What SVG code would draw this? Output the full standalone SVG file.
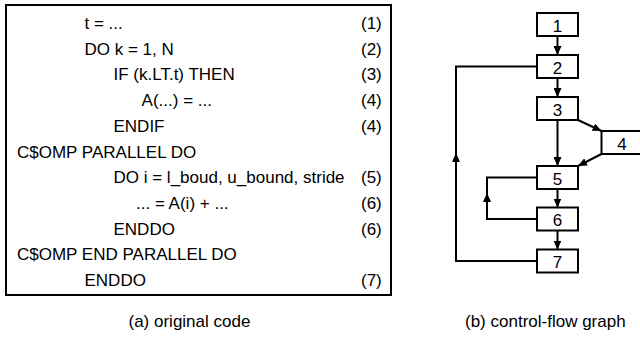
<svg xmlns="http://www.w3.org/2000/svg" width="640" height="337" viewBox="0 0 640 337">
<defs>
<style>
text{font-family:"Liberation Sans",Arial,sans-serif;font-size:17px;fill:#000}
.box{fill:#fff;stroke:#000;stroke-width:2}
.edge{fill:none;stroke:#000;stroke-width:2}
.lbl{text-anchor:middle}
</style>
<marker id="ah" markerUnits="userSpaceOnUse" markerWidth="9" markerHeight="8" refX="9" refY="4" orient="auto">
<path d="M0,0 L9,4 L0,8 z" fill="#000"/>
</marker>
</defs>
<rect width="640" height="337" fill="#fff"/>
<g id="code">
<rect x="6" y="5" width="385" height="290" fill="none" stroke="#000" stroke-width="2"/>
<text x="84.5" y="29">t = ...</text>
<text x="84.5" y="54.7">DO k = 1, N</text>
<text x="113.5" y="80.4">IF (k.LT.t) THEN</text>
<text x="141.6" y="106.1">A(...) = ...</text>
<text x="113.5" y="131.8">ENDIF</text>
<text x="17" y="157.5">C$OMP PARALLEL DO</text>
<text x="113.5" y="183.2">DO i = l_boud, u_bound, stride</text>
<text x="136" y="208.9">... = A(i) + ...</text>
<text x="113.5" y="234.6">ENDDO</text>
<text x="17" y="260.3">C$OMP END PARALLEL DO</text>
<text x="84.5" y="286">ENDDO</text>
<text x="361" y="29">(1)</text>
<text x="361" y="54.7">(2)</text>
<text x="361" y="80.4">(3)</text>
<text x="361" y="106.1">(4)</text>
<text x="361" y="131.8">(4)</text>
<text x="361" y="183.2">(5)</text>
<text x="361" y="208.9">(6)</text>
<text x="361" y="234.6">(6)</text>
<text x="361" y="286">(7)</text>
</g>
<text x="128.5" y="327">(a) original code</text>
<text x="465" y="327">(b) control-flow graph</text>
<g id="connectors">
<path class="edge" d="M557.5,36 V55" marker-end="url(#ah)"/>
<path class="edge" d="M557.5,78 V97" marker-end="url(#ah)"/>
<path class="edge" d="M557.5,120 V166" marker-end="url(#ah)"/>
<path class="edge" d="M557.5,189 V207.5" marker-end="url(#ah)"/>
<path class="edge" d="M557.5,230.5 V249.5" marker-end="url(#ah)"/>
<path class="edge" d="M578,120 L601.5,131" marker-end="url(#ah)"/>
<path class="edge" d="M601.5,154 L578,166" marker-end="url(#ah)"/>
<path class="edge" d="M537,219 H487 V193" marker-end="url(#ah)"/>
<path class="edge" d="M487,194 V177.5 H537"/>
<path class="edge" d="M537,261 H456 V153" marker-end="url(#ah)"/>
<path class="edge" d="M456,154 V66.5 H537"/>
</g>
<g id="n1"><rect class="box" x="537" y="13" width="41" height="23"/><text class="lbl" x="557.5" y="31.5">1</text></g>
<g id="n2"><rect class="box" x="537" y="55" width="41" height="23"/><text class="lbl" x="557.5" y="73.5">2</text></g>
<g id="n3"><rect class="box" x="537" y="97" width="41" height="23"/><text class="lbl" x="557.5" y="115.5">3</text></g>
<g id="n4"><rect class="box" x="601.5" y="131" width="41" height="23"/><text class="lbl" x="622" y="149.5">4</text></g>
<g id="n5"><rect class="box" x="537" y="166" width="41" height="23"/><text class="lbl" x="557.5" y="184.5">5</text></g>
<g id="n6"><rect class="box" x="537" y="207.5" width="41" height="23"/><text class="lbl" x="557.5" y="226">6</text></g>
<g id="n7"><rect class="box" x="537" y="249.5" width="41" height="23"/><text class="lbl" x="557.5" y="268">7</text></g>
</svg>
